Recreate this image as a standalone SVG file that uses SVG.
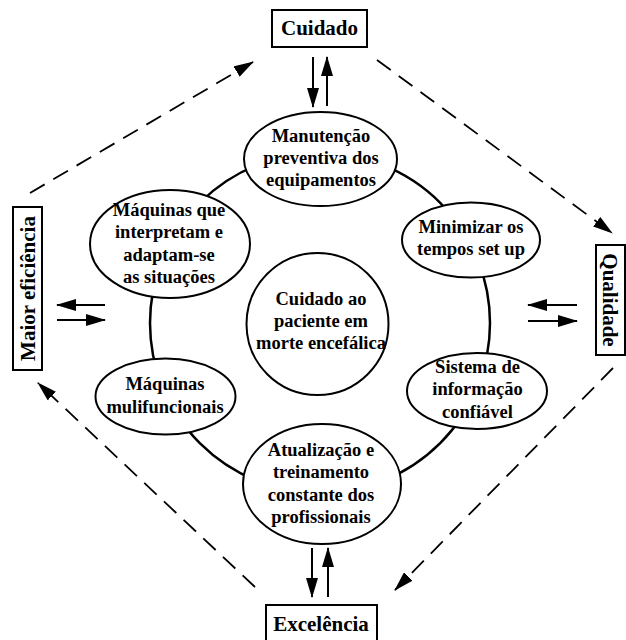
<svg xmlns="http://www.w3.org/2000/svg" width="626" height="640" viewBox="0 0 626 640">
<style>
text{font-family:"Liberation Serif","Times New Roman",serif;font-weight:bold;fill:#000;text-anchor:middle}
.t{font-size:18.5px}
.b{font-size:21px}
.node{fill:#fff;stroke:#000;stroke-width:2}
.ring{fill:none;stroke:#000;stroke-width:2.5}
.arr{stroke:#000;stroke-width:2;fill:none;marker-end:url(#ah)}
.dash{stroke:#000;stroke-width:1.8;fill:none;stroke-dasharray:17 10;marker-end:url(#ah)}
</style>
<defs>
<marker id="ah" markerWidth="20" markerHeight="12" refX="19" refY="6" orient="auto" markerUnits="userSpaceOnUse">
<path d="M0,0 L20,6 L0,12 z" fill="#000"/>
</marker>
</defs>
<rect width="626" height="640" fill="#fff"/>
<g id="connectors">
<circle class="ring" cx="320" cy="323" r="170"/>
<line class="arr" x1="313" y1="57" x2="313" y2="107"/>
<line class="arr" x1="327" y1="106" x2="327" y2="57"/>
<line class="arr" x1="312" y1="548" x2="312" y2="597"/>
<line class="arr" x1="328" y1="597" x2="328" y2="548"/>
<line class="arr" x1="105" y1="305" x2="57" y2="305"/>
<line class="arr" x1="57" y1="320" x2="105" y2="320"/>
<line class="arr" x1="577" y1="305" x2="528" y2="305"/>
<line class="arr" x1="528" y1="321" x2="577" y2="321"/>
<line class="dash" x1="30" y1="193" x2="253" y2="62"/>
<line class="dash" x1="377" y1="60" x2="612" y2="233"/>
<line class="dash" x1="613" y1="368" x2="395" y2="590"/>
<line class="dash" x1="255" y1="587" x2="38" y2="383"/>
</g>
<g id="cuidado">
<rect class="node" x="272" y="10" width="95" height="37"/>
<text class="b" x="319.5" y="35">Cuidado</text>
</g>
<g id="excelencia">
<rect class="node" x="266" y="605" width="111" height="40"/>
<text class="b" x="321" y="631">Excelência</text>
</g>
<g id="maior-eficiencia">
<rect class="node" x="13" y="207" width="29" height="163"/>
<text class="b" transform="translate(34.5,288.5) rotate(-90)">Maior eficiência</text>
</g>
<g id="qualidade">
<rect class="node" x="596" y="245" width="29" height="110"/>
<text class="b" transform="translate(603,300) rotate(90)">Qualidade</text>
</g>
<g id="manutencao">
<ellipse class="node" cx="320.5" cy="159" rx="76.5" ry="47"/>
<text class="t" x="321" y="142">Manutenção</text>
<text class="t" x="321" y="164">preventiva dos</text>
<text class="t" x="321" y="186">equipamentos</text>
</g>
<g id="maquinas-interpretam">
<ellipse class="node" cx="170" cy="244" rx="80" ry="54"/>
<text class="t" x="169" y="216">Máquinas que</text>
<text class="t" x="169" y="238">interpretam e</text>
<text class="t" x="169" y="261">adaptam-se</text>
<text class="t" x="169" y="283">as situações</text>
</g>
<g id="minimizar">
<ellipse class="node" cx="471" cy="240" rx="69" ry="37.5"/>
<text class="t" x="471" y="233">Minimizar os</text>
<text class="t" x="471" y="255">tempos set up</text>
</g>
<g id="maquinas-multi">
<ellipse class="node" cx="165.5" cy="396.5" rx="70" ry="38"/>
<text class="t" x="165" y="390">Máquinas</text>
<text class="t" x="165" y="413">mulifuncionais</text>
</g>
<g id="sistema">
<ellipse class="node" cx="477" cy="391" rx="70" ry="38"/>
<text class="t" x="477.5" y="373">Sistema de</text>
<text class="t" x="477.5" y="395">informação</text>
<text class="t" x="477.5" y="418">confiável</text>
</g>
<g id="atualizacao">
<ellipse class="node" cx="322" cy="484" rx="79" ry="60"/>
<text class="t" x="321" y="456">Atualização e</text>
<text class="t" x="321" y="478">treinamento</text>
<text class="t" x="321" y="501">constante dos</text>
<text class="t" x="321" y="523">profissionais</text>
</g>
<g id="centro">
<circle class="node" cx="317.5" cy="324" r="71"/>
<text class="t" x="321" y="305">Cuidado ao</text>
<text class="t" x="321" y="327">paciente em</text>
<text class="t" x="321" y="349">morte encefálica</text>
</g>
</svg>
